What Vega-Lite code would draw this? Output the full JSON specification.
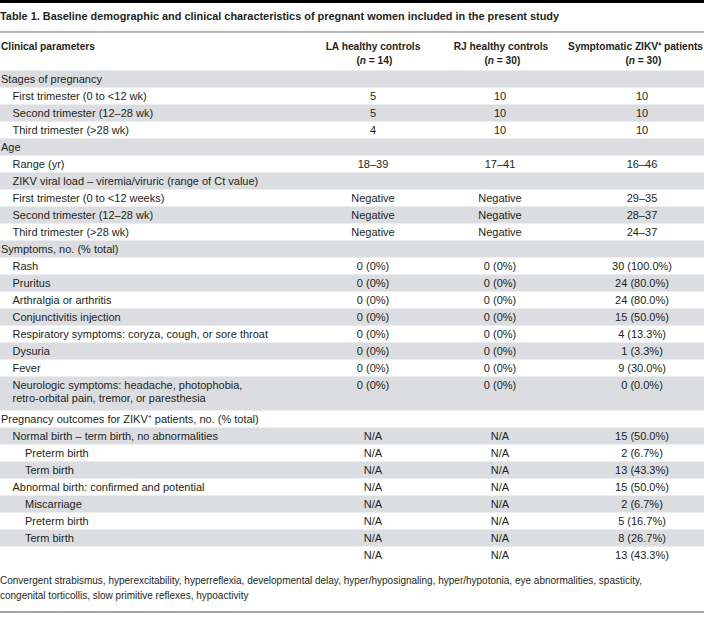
{
  "$schema": "https://vega.github.io/schema/vega-lite/v6.json",
  "width": 704,
  "height": 619,
  "autosize": {"type": "none"},
  "padding": 0,
  "background": "white",
  "config": {
    "view": {"stroke": null},
    "text": {"font": "Liberation Sans", "fontSize": 11, "color": "#231f20"}
  },
  "datasets": {
    "rows": [
      {"row": 0, "line": 0, "lines": 1, "indent": 0, "label": "Stages of pregnancy", "la": "", "rj": "", "zikv": ""},
      {"row": 1, "line": 1, "lines": 1, "indent": 1, "label": "First trimester (0 to <12 wk)", "la": "5", "rj": "10", "zikv": "10"},
      {"row": 2, "line": 2, "lines": 1, "indent": 1, "label": "Second trimester (12–28 wk)", "la": "5", "rj": "10", "zikv": "10"},
      {"row": 3, "line": 3, "lines": 1, "indent": 1, "label": "Third trimester (>28 wk)", "la": "4", "rj": "10", "zikv": "10"},
      {"row": 4, "line": 4, "lines": 1, "indent": 0, "label": "Age", "la": "", "rj": "", "zikv": ""},
      {"row": 5, "line": 5, "lines": 1, "indent": 1, "label": "Range (yr)", "la": "18–39", "rj": "17–41", "zikv": "16–46"},
      {"row": 6, "line": 6, "lines": 1, "indent": 1, "label": "ZIKV viral load – viremia/viruric (range of Ct value)", "la": "", "rj": "", "zikv": ""},
      {"row": 7, "line": 7, "lines": 1, "indent": 1, "label": "First trimester (0 to <12 weeks)", "la": "Negative", "rj": "Negative", "zikv": "29–35"},
      {"row": 8, "line": 8, "lines": 1, "indent": 1, "label": "Second trimester (12–28 wk)", "la": "Negative", "rj": "Negative", "zikv": "28–37"},
      {"row": 9, "line": 9, "lines": 1, "indent": 1, "label": "Third trimester (>28 wk)", "la": "Negative", "rj": "Negative", "zikv": "24–37"},
      {"row": 10, "line": 10, "lines": 1, "indent": 0, "label": "Symptoms, no. (% total)", "la": "", "rj": "", "zikv": ""},
      {"row": 11, "line": 11, "lines": 1, "indent": 1, "label": "Rash", "la": "0 (0%)", "rj": "0 (0%)", "zikv": "30 (100.0%)"},
      {"row": 12, "line": 12, "lines": 1, "indent": 1, "label": "Pruritus", "la": "0 (0%)", "rj": "0 (0%)", "zikv": "24 (80.0%)"},
      {"row": 13, "line": 13, "lines": 1, "indent": 1, "label": "Arthralgia or arthritis", "la": "0 (0%)", "rj": "0 (0%)", "zikv": "24 (80.0%)"},
      {"row": 14, "line": 14, "lines": 1, "indent": 1, "label": "Conjunctivitis injection", "la": "0 (0%)", "rj": "0 (0%)", "zikv": "15 (50.0%)"},
      {"row": 15, "line": 15, "lines": 1, "indent": 1, "label": "Respiratory symptoms: coryza, cough, or sore throat", "la": "0 (0%)", "rj": "0 (0%)", "zikv": "4 (13.3%)"},
      {"row": 16, "line": 16, "lines": 1, "indent": 1, "label": "Dysuria", "la": "0 (0%)", "rj": "0 (0%)", "zikv": "1 (3.3%)"},
      {"row": 17, "line": 17, "lines": 1, "indent": 1, "label": "Fever", "la": "0 (0%)", "rj": "0 (0%)", "zikv": "9 (30.0%)"},
      {"row": 18, "line": 18, "lines": 2, "indent": 1, "label": "Neurologic symptoms: headache, photophobia,\nretro-orbital pain, tremor, or paresthesia", "la": "0 (0%)", "rj": "0 (0%)", "zikv": "0 (0.0%)"},
      {"row": 19, "line": 20, "lines": 1, "indent": 0, "label": "Pregnancy outcomes for ZIKV⁺ patients, no. (% total)", "la": "", "rj": "", "zikv": ""},
      {"row": 20, "line": 21, "lines": 1, "indent": 1, "label": "Normal birth – term birth, no abnormalities", "la": "N/A", "rj": "N/A", "zikv": "15 (50.0%)"},
      {"row": 21, "line": 22, "lines": 1, "indent": 2, "label": "Preterm birth", "la": "N/A", "rj": "N/A", "zikv": "2 (6.7%)"},
      {"row": 22, "line": 23, "lines": 1, "indent": 2, "label": "Term birth", "la": "N/A", "rj": "N/A", "zikv": "13 (43.3%)"},
      {"row": 23, "line": 24, "lines": 1, "indent": 1, "label": "Abnormal birth: confirmed and potential", "la": "N/A", "rj": "N/A", "zikv": "15 (50.0%)"},
      {"row": 24, "line": 25, "lines": 1, "indent": 2, "label": "Miscarriage", "la": "N/A", "rj": "N/A", "zikv": "2 (6.7%)"},
      {"row": 25, "line": 26, "lines": 1, "indent": 2, "label": "Preterm birth", "la": "N/A", "rj": "N/A", "zikv": "5 (16.7%)"},
      {"row": 26, "line": 27, "lines": 1, "indent": 2, "label": "Term birth", "la": "N/A", "rj": "N/A", "zikv": "8 (26.7%)"},
      {"row": 27, "line": 28, "lines": 1, "indent": 2, "label": "", "la": "N/A", "rj": "N/A", "zikv": "13 (43.3%)"}
    ],
    "heads": [
      {"key": "title", "text": "Table 1. Baseline demographic and clinical characteristics of pregnant women included in the present study"},
      {"key": "clin", "text": "Clinical parameters"},
      {"key": "la1", "text": "LA healthy controls"},
      {"key": "la2", "text": "= 14)"},
      {"key": "rj1", "text": "RJ healthy controls"},
      {"key": "rj2", "text": "= 30)"},
      {"key": "zk1", "text": "Symptomatic ZIKV⁺ patients"},
      {"key": "zk2", "text": "= 30)"},
      {"key": "paren", "text": "("},
      {"key": "n", "text": "n"},
      {"key": "foot1", "text": "Convergent strabismus, hyperexcitability, hyperreflexia, developmental delay, hyper/hyposignaling, hyper/hypotonia, eye abnormalities, spasticity,"},
      {"key": "foot2", "text": "congenital torticollis, slow primitive reflexes, hypoactivity"}
    ]
  },
  "layer": [
    {
      "data": {"name": "rows"},
      "transform": [{"filter": "datum.row % 2 == 0"}, {"calculate": "datum.line + datum.lines", "as": "lineEnd"}],
      "mark": {"type": "rect", "color": "#dcdde0"},
      "encoding": {
        "x": {"datum": 0, "type": "quantitative", "scale": {"domain": [0, 704], "range": [0, 704], "nice": false, "zero": false}, "axis": null},
        "x2": {"datum": 704},
        "y": {"field": "line", "type": "quantitative", "scale": {"domain": [-4.147, 32.265], "range": [0, 619], "nice": false, "zero": false}, "axis": null},
        "y2": {"field": "lineEnd"}
      }
    },
    {
      "data": {"values": [{}]},
      "mark": {"type": "rect", "color": "#000000"},
      "encoding": {
        "x": {"datum": 0, "type": "quantitative"},
        "x2": {"datum": 704},
        "y": {"datum": -4.147, "type": "quantitative"},
        "y2": {"datum": -3.97}
      }
    },
    {
      "data": {"values": [{}]},
      "mark": {"type": "rule", "color": "#6d6d6d", "strokeWidth": 1},
      "encoding": {
        "x": {"datum": 0, "type": "quantitative"},
        "x2": {"datum": 704},
        "y": {"datum": -2.265, "type": "quantitative"}
      }
    },
    {
      "data": {"values": [{}]},
      "mark": {"type": "rule", "color": "#8a8a8a", "strokeWidth": 1.5},
      "encoding": {
        "x": {"datum": 0, "type": "quantitative"},
        "x2": {"datum": 704},
        "y": {"datum": 31.85, "type": "quantitative"}
      }
    },
    {
      "data": {"name": "rows"},
      "transform": [{"filter": "datum.indent == 0"}],
      "mark": {"type": "text", "align": "left", "baseline": "top", "dx": 1, "dy": 3.5, "lineBreak": "\n", "lineHeight": 13},
      "encoding": {
        "x": {"datum": 0, "type": "quantitative"},
        "y": {"field": "line", "type": "quantitative"},
        "text": {"field": "label"}
      }
    },
    {
      "data": {"name": "rows"},
      "transform": [{"filter": "datum.indent == 1"}],
      "mark": {"type": "text", "align": "left", "baseline": "top", "dx": 12.5, "dy": 3.5, "lineBreak": "\n", "lineHeight": 13},
      "encoding": {
        "x": {"datum": 0, "type": "quantitative"},
        "y": {"field": "line", "type": "quantitative"},
        "text": {"field": "label"}
      }
    },
    {
      "data": {"name": "rows"},
      "transform": [{"filter": "datum.indent == 2"}],
      "mark": {"type": "text", "align": "left", "baseline": "top", "dx": 25, "dy": 3.5, "lineBreak": "\n", "lineHeight": 13},
      "encoding": {
        "x": {"datum": 0, "type": "quantitative"},
        "y": {"field": "line", "type": "quantitative"},
        "text": {"field": "label"}
      }
    },
    {
      "data": {"name": "rows"},
      "mark": {"type": "text", "align": "center", "baseline": "top", "dy": 3.5},
      "encoding": {
        "x": {"datum": 373, "type": "quantitative"},
        "y": {"field": "line", "type": "quantitative"},
        "text": {"field": "la"}
      }
    },
    {
      "data": {"name": "rows"},
      "mark": {"type": "text", "align": "center", "baseline": "top", "dy": 3.5},
      "encoding": {
        "x": {"datum": 500, "type": "quantitative"},
        "y": {"field": "line", "type": "quantitative"},
        "text": {"field": "rj"}
      }
    },
    {
      "data": {"name": "rows"},
      "mark": {"type": "text", "align": "center", "baseline": "top", "dy": 3.5},
      "encoding": {
        "x": {"datum": 642, "type": "quantitative"},
        "y": {"field": "line", "type": "quantitative"},
        "text": {"field": "zikv"}
      }
    },
    {
      "data": {"name": "heads"},
      "transform": [{"filter": "datum.key == 'title'"}],
      "mark": {"type": "text", "align": "left", "baseline": "middle", "fontWeight": "bold", "fontSize": 10.9},
      "encoding": {
        "x": {"datum": 0, "type": "quantitative"},
        "y": {"datum": -3.147, "type": "quantitative"},
        "text": {"field": "text"}
      }
    },
    {
      "data": {"name": "heads"},
      "transform": [{"filter": "datum.key == 'clin'"}],
      "mark": {"type": "text", "align": "left", "baseline": "middle", "fontWeight": "bold", "fontSize": 10.2, "dx": 1},
      "encoding": {
        "x": {"datum": 0, "type": "quantitative"},
        "y": {"datum": -1.382, "type": "quantitative"},
        "text": {"field": "text"}
      }
    },
    {
      "data": {"name": "heads"},
      "transform": [{"filter": "datum.key == 'la1'"}],
      "mark": {"type": "text", "align": "center", "baseline": "middle", "fontWeight": "bold", "fontSize": 10.2},
      "encoding": {"x": {"datum": 373, "type": "quantitative"}, "y": {"datum": -1.382, "type": "quantitative"}, "text": {"field": "text"}}
    },
    {
      "data": {"name": "heads"},
      "transform": [{"filter": "datum.key == 'rj1'"}],
      "mark": {"type": "text", "align": "center", "baseline": "middle", "fontWeight": "bold", "fontSize": 10.2},
      "encoding": {"x": {"datum": 501, "type": "quantitative"}, "y": {"datum": -1.382, "type": "quantitative"}, "text": {"field": "text"}}
    },
    {
      "data": {"name": "heads"},
      "transform": [{"filter": "datum.key == 'zk1'"}],
      "mark": {"type": "text", "align": "right", "baseline": "middle", "fontWeight": "bold", "fontSize": 10.2},
      "encoding": {"x": {"datum": 703, "type": "quantitative"}, "y": {"datum": -1.382, "type": "quantitative"}, "text": {"field": "text"}}
    },
    {
      "data": {"name": "heads"},
      "transform": [{"filter": "datum.key == 'paren'"}],
      "mark": {"type": "text", "align": "right", "baseline": "middle", "fontWeight": "bold", "fontSize": 10.2, "dx": -13.2},
      "encoding": {"x": {"datum": 373, "type": "quantitative"}, "y": {"datum": -0.559, "type": "quantitative"}, "text": {"field": "text"}}
    },
    {
      "data": {"name": "heads"},
      "transform": [{"filter": "datum.key == 'n'"}],
      "mark": {"type": "text", "align": "left", "baseline": "middle", "fontWeight": "bold", "fontStyle": "italic", "fontSize": 10.2, "dx": -13.2},
      "encoding": {"x": {"datum": 373, "type": "quantitative"}, "y": {"datum": -0.559, "type": "quantitative"}, "text": {"field": "text"}}
    },
    {
      "data": {"name": "heads"},
      "transform": [{"filter": "datum.key == 'la2'"}],
      "mark": {"type": "text", "align": "left", "baseline": "middle", "fontWeight": "bold", "fontSize": 10.2, "dx": -4.2},
      "encoding": {"x": {"datum": 373, "type": "quantitative"}, "y": {"datum": -0.559, "type": "quantitative"}, "text": {"field": "text"}}
    },
    {
      "data": {"name": "heads"},
      "transform": [{"filter": "datum.key == 'paren'"}],
      "mark": {"type": "text", "align": "right", "baseline": "middle", "fontWeight": "bold", "fontSize": 10.2, "dx": -13.2},
      "encoding": {"x": {"datum": 501, "type": "quantitative"}, "y": {"datum": -0.559, "type": "quantitative"}, "text": {"field": "text"}}
    },
    {
      "data": {"name": "heads"},
      "transform": [{"filter": "datum.key == 'n'"}],
      "mark": {"type": "text", "align": "left", "baseline": "middle", "fontWeight": "bold", "fontStyle": "italic", "fontSize": 10.2, "dx": -13.2},
      "encoding": {"x": {"datum": 501, "type": "quantitative"}, "y": {"datum": -0.559, "type": "quantitative"}, "text": {"field": "text"}}
    },
    {
      "data": {"name": "heads"},
      "transform": [{"filter": "datum.key == 'rj2'"}],
      "mark": {"type": "text", "align": "left", "baseline": "middle", "fontWeight": "bold", "fontSize": 10.2, "dx": -4.2},
      "encoding": {"x": {"datum": 501, "type": "quantitative"}, "y": {"datum": -0.559, "type": "quantitative"}, "text": {"field": "text"}}
    },
    {
      "data": {"name": "heads"},
      "transform": [{"filter": "datum.key == 'paren'"}],
      "mark": {"type": "text", "align": "right", "baseline": "middle", "fontWeight": "bold", "fontSize": 10.2, "dx": -13.2},
      "encoding": {"x": {"datum": 642, "type": "quantitative"}, "y": {"datum": -0.559, "type": "quantitative"}, "text": {"field": "text"}}
    },
    {
      "data": {"name": "heads"},
      "transform": [{"filter": "datum.key == 'n'"}],
      "mark": {"type": "text", "align": "left", "baseline": "middle", "fontWeight": "bold", "fontStyle": "italic", "fontSize": 10.2, "dx": -13.2},
      "encoding": {"x": {"datum": 642, "type": "quantitative"}, "y": {"datum": -0.559, "type": "quantitative"}, "text": {"field": "text"}}
    },
    {
      "data": {"name": "heads"},
      "transform": [{"filter": "datum.key == 'zk2'"}],
      "mark": {"type": "text", "align": "left", "baseline": "middle", "fontWeight": "bold", "fontSize": 10.2, "dx": -4.2},
      "encoding": {"x": {"datum": 642, "type": "quantitative"}, "y": {"datum": -0.559, "type": "quantitative"}, "text": {"field": "text"}}
    },
    {
      "data": {"name": "heads"},
      "transform": [{"filter": "datum.key == 'foot1'"}],
      "mark": {"type": "text", "align": "left", "baseline": "middle", "fontSize": 10},
      "encoding": {"x": {"datum": 0, "type": "quantitative"}, "y": {"datum": 30.03, "type": "quantitative"}, "text": {"field": "text"}}
    },
    {
      "data": {"name": "heads"},
      "transform": [{"filter": "datum.key == 'foot2'"}],
      "mark": {"type": "text", "align": "left", "baseline": "middle", "fontSize": 10},
      "encoding": {"x": {"datum": 0, "type": "quantitative"}, "y": {"datum": 30.91, "type": "quantitative"}, "text": {"field": "text"}}
    }
  ]
}
